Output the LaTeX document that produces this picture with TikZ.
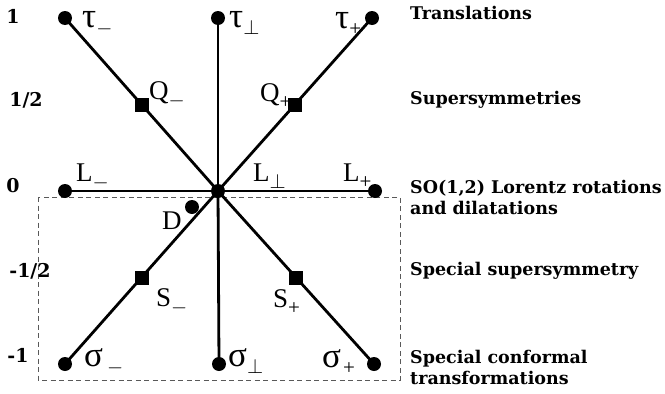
\documentclass[tikz,border=0pt]{standalone}
\usepackage{fontspec}
\usetikzlibrary{calc}
\setmainfont{DejaVu Serif}
\newfontfamily\labfont{Liberation Serif}
\newcommand\grk[1]{{\fontsize{35}{35}\selectfont #1}}
\newcommand\sbx[1]{\raisebox{-7pt}{\fontsize{21}{21}\selectfont #1}}
\newcommand\smin{\sbx{$-$}}
\newcommand\sperp{\sbx{$\perp$}}
\newcommand\splus{\sbx{+}}
\begin{document}
\begin{tikzpicture}[x=1pt,y=-1pt,
  dotnode/.style={circle,fill=black,inner sep=0pt,minimum size=14pt},
  sqnode/.style={rectangle,fill=black,inner sep=0pt,minimum size=14pt},
  edge/.style={line width=2.8pt},
  gen/.style={font=\labfont\fontsize{27}{29}\selectfont,inner sep=0pt,anchor=base west},
  side/.style={font=\bfseries\fontsize{17.5}{21}\selectfont,anchor=west,align=left,inner sep=0pt},
  axis/.style={font=\bfseries\fontsize{19}{21}\selectfont,inner sep=0pt}]
\useasboundingbox (0,0) rectangle (665,394);
% dashed box
\draw[black!65,line width=1pt,dash pattern=on 5pt off 3.5pt] (38,197) rectangle (400,380);
% nodes
\node[dotnode] (tm) at (65,18) {};
\node[dotnode] (tp0) at (218,18) {};
\node[dotnode] (tp) at (372,18) {};
\node[dotnode] (lm) at (65,191) {};
\node[dotnode] (lp) at (375,191) {};
\node[dotnode] (sm) at (65,364) {};
\node[dotnode] (sp0) at (219,364) {};
\node[dotnode] (sp) at (374,364) {};
\node[dotnode] (cc) at (218,191) {};
\node[dotnode] (dd) at (192,207) {};
% edges
\foreach \n in {tm,tp0,tp,lm,lp,sm,sp0,sp} \draw[edge] (cc.center) -- (\n.center);
\node[sqnode] (qm) at ($(cc.center)!0.5!(tm.center)$) {};
\node[sqnode] (qp) at ($(cc.center)!0.5!(tp.center)$) {};
\node[sqnode] (ssm) at ($(cc.center)!0.5!(sm.center)$) {};
\node[sqnode] (ssp) at ($(cc.center)!0.5!(sp.center)$) {};
% generator labels
\node[gen] (ltm) at (82,27) {\grk{τ}\smin};
\node[gen] (ltp0) at (229,27) {\grk{τ}\sperp};
\node[gen] (ltp) at (335,28) {\grk{τ}\splus};
\node[gen] (lqm) at (149,99) {Q\smin};
\node[gen] (lqp) at (260,101) {Q\splus};
\node[gen] (llm) at (76,181) {L\smin};
\node[gen] (llp0) at (253,181) {L\sperp};
\node[gen] (llp) at (343,181) {L\splus};
\node[gen] (ld) at (162,229) {D};
\node[gen] (lsm) at (156,306) {S\smin};
\node[gen] (lsp) at (273,307) {S\splus};
\node[gen] (lsgm) at (84,366) {\grk{σ}\hspace{4pt}\smin};
\node[gen] (lsgp0) at (228,366) {\grk{σ}\sperp};
\node[gen] (lsgp) at (322,367) {\grk{σ}\hspace{2pt}\splus};
% axis values
\node[axis] (a1) at (13,16) {1};
\node[axis] (a2) at (26,100) {1/2};
\node[axis] (a3) at (13,186) {0};
\node[axis] (a4) at (30,271) {-1/2};
\node[axis] (a5) at (18,355) {-1};
% side descriptions
\node[side] (d1) at (410,13) {Translations};
\node[side] (d2) at (410,100) {Supersymmetries};
\node[side] (d3) at (410,197) {SO(1,2) Lorentz rotations\\and dilatations};
\node[side] (d4) at (410,271) {Special supersymmetry};
\node[side] (d5) at (410,367) {Special conformal\\transformations};
\end{tikzpicture}
\end{document}
